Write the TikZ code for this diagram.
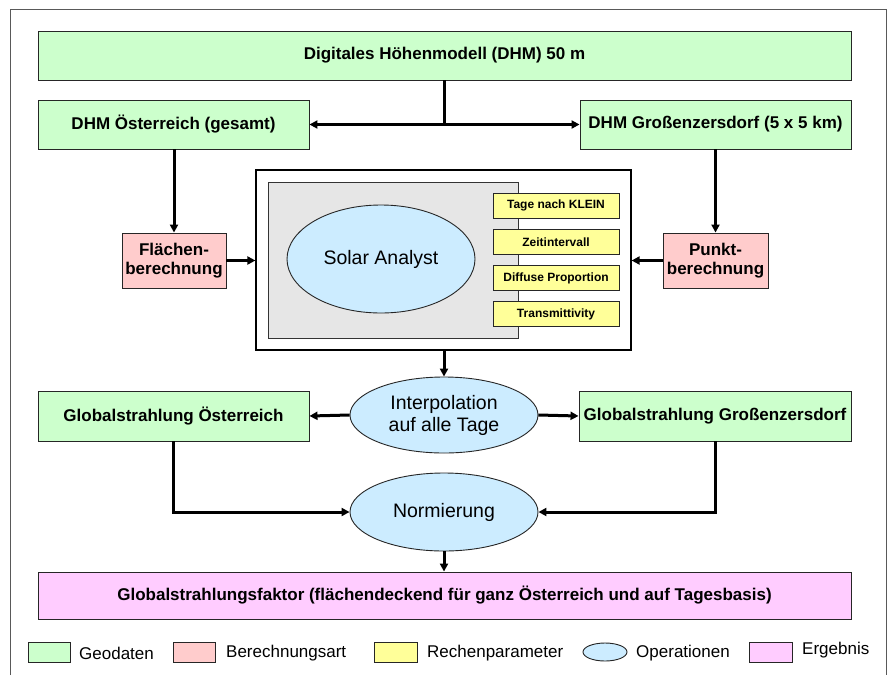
\documentclass[tikz,border=0pt]{standalone}
\usepackage{fontspec}
\setmainfont{Liberation Sans}
\usetikzlibrary{arrows.meta,shapes.geometric}
\definecolor{geo}{HTML}{CCFFCC}
\definecolor{ber}{HTML}{FFCCCC}
\definecolor{par}{HTML}{FFFF99}
\definecolor{ope}{HTML}{CCECFF}
\definecolor{erg}{HTML}{FFCCFF}
\definecolor{gry}{HTML}{E6E6E6}
\begin{document}
\begin{tikzpicture}[x=1pt,y=-1pt,
  sz/.style 2 args={minimum width=#1pt, minimum height=#2pt},
  base/.style={draw=black!85, line width=0.9pt, inner sep=0pt, align=center},
  bold/.style={font=\bfseries\fontsize{17}{19}\selectfont},
  geobox/.style={base, bold, fill=geo},
  berbox/.style={base, bold, fill=ber},
  parbox/.style={base, fill=par, font=\bfseries\fontsize{12}{14}\selectfont},
  opell/.style={base, ellipse, fill=ope, font=\fontsize{19.5}{22}\selectfont},
  ergbox/.style={base, bold, fill=erg},
  legtext/.style={inner sep=0pt, anchor=west, font=\fontsize{17}{19}\selectfont},
  conn/.style={line width=3pt},
  arr/.style={line width=3pt, -{Triangle[length=8pt,width=8pt]}}
]
\useasboundingbox (0,0) rectangle (888,675);
\fill[white] (0,0) rectangle (888,675);
% outer frame
\draw[black!65, line width=1pt] (10,675) -- (10,9) -- (886,9) -- (886,675);

% top nodes
\node[geobox, sz={813}{49}] (dhm) at (444.5,55.5) {Digitales Höhenmodell (DHM) 50 m};
\node[geobox, sz={271}{49}] (dhmA) at (173.5,124.5) {DHM Österreich (gesamt)};
\node[geobox, sz={271}{49}] (dhmG) at (715.5,124.5) {DHM Großenzersdorf (5 x 5 km)};

% calculation types
\node[berbox, sz={104}{55}] (flae) at (174,260.5) {Flächen-\\berechnung};
\node[berbox, sz={105}{55}] (punkt) at (715.5,260.5) {Punkt-\\berechnung};

% solar analyst block
\node[draw=black, line width=1.2pt, fill=white, inner sep=0pt, sz={375}{180}] (solar) at (443.5,260) {};
\node[draw=black!80, line width=0.9pt, fill=gry, inner sep=0pt, sz={250}{156}] (grey) at (393,260) {};
\node[opell, sz={188}{108}] (sa) at (381,259) {Solar Analyst};
\node[parbox, sz={126}{25}] (p1) at (556,205.5) {Tage nach KLEIN};
\node[parbox, sz={126}{25}] (p2) at (556,242) {Zeitintervall};
\node[parbox, sz={126}{25}] (p3) at (556,278) {Diffuse Proportion};
\node[parbox, sz={126}{25}] (p4) at (556,314) {Transmittivity};

% interpolation row
\node[opell, sz={188}{76}] (interp) at (444,415) {Interpolation\\auf alle Tage};
\node[geobox, sz={271}{50}] (gA) at (173.5,416) {Globalstrahlung Österreich};
\node[geobox, sz={272}{50}] (gG) at (715,416) {Globalstrahlung Großenzersdorf};

% normierung
\node[opell, sz={188}{78}] (norm) at (444,512) {Normierung};

% result
\node[ergbox, sz={813}{47}] (res) at (444.5,595.5) {Globalstrahlungsfaktor (flächendeckend für ganz Österreich und auf Tagesbasis)};

% connectors
\draw[conn] (dhm.south) -- (dhm.south |- dhmA.east) coordinate (j1);
\draw[arr] (j1) -- (dhmA.east);
\draw[arr] (j1) -- (dhmG.west);
\draw[arr] (dhmA.south -| flae.north) -- (flae.north);
\draw[arr] (dhmG.south) -- (punkt.north);
\draw[arr] (flae.east) -- (solar.west |- flae.east);
\draw[arr] (punkt.west) -- (solar.east |- punkt.west);
\draw[arr] (solar.south -| interp.north) -- (interp.north);
\draw[arr] (interp.west) -- (gA.east);
\draw[arr] (interp.east) -- (gG.west);
\draw[arr] (gA.south) |- (norm.west);
\draw[arr] (gG.south) |- (norm.east);
\draw[arr] (norm.south) -- (res.north -| norm.south);

% legend
\node[base, fill=geo, sz={42}{20}] (lg1) at (49,652.5) {};
\node[legtext] (lt1) at (79,653) {Geodaten};
\node[base, fill=ber, sz={42}{20}] (lg2) at (194,652.5) {};
\node[legtext] (lt2) at (226,653) {Berechnungsart};
\node[base, fill=par, sz={43}{20}] (lg3) at (395.5,652.5) {};
\node[legtext] (lt3) at (427,653) {Rechenparameter};
\node[base, ellipse, fill=ope, sz={44}{18}] (lg4) at (605,652) {};
\node[legtext] (lt4) at (636,653) {Operationen};
\node[base, fill=erg, sz={43}{20}] (lg5) at (770.5,652.5) {};
\node[legtext] (lt5) at (802,650) {Ergebnis};
\end{tikzpicture}
\end{document}
